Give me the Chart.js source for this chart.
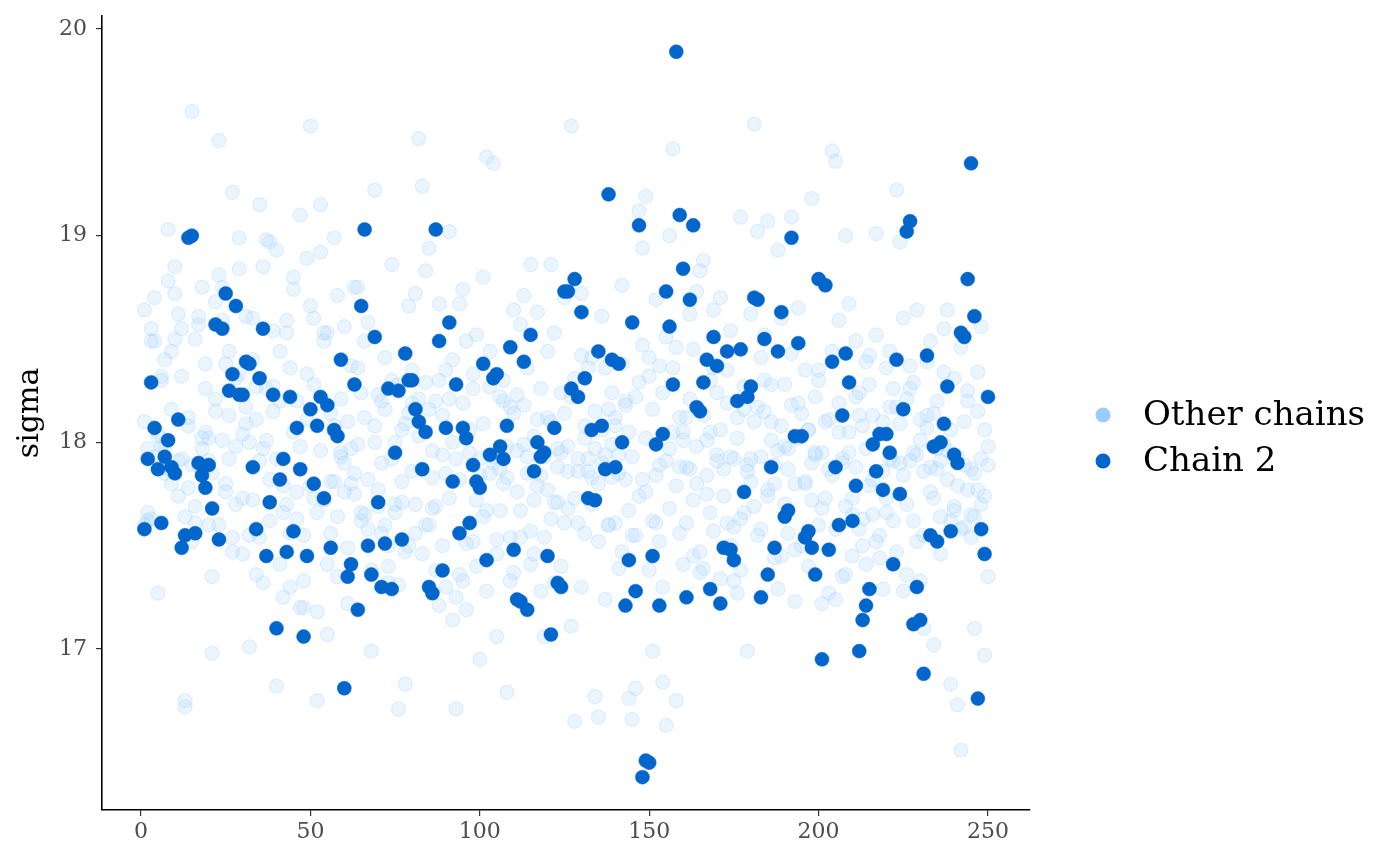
<!DOCTYPE html>
<html>
<head>
<meta charset="utf-8">
<script src="https://cdn.jsdelivr.net/npm/chart.js@4"></script>
<style>
html,body{margin:0;padding:0;background:#fff;}
canvas{display:block;}
</style>
</head>
<body>
<canvas id="c" width="1400" height="866"></canvas>
<script>
// ---- data ----
const seriesLabels = ["Other chains", "Chain 2"];
const xTicks = [0, 50, 100, 150, 200, 250];
const yTicks = [17, 18, 19, 20];

const chain2 = [
17.58,17.92,18.29,18.07,17.87,17.61,17.93,18.01,17.88,17.85,
18.11,17.49,17.55,18.99,19.00,17.56,17.90,17.84,17.78,17.89,
17.68,18.57,17.53,18.55,18.72,18.25,18.33,18.66,18.23,18.23,
18.39,18.38,17.88,17.58,18.31,18.55,17.45,17.71,18.23,17.10,
17.82,17.92,17.47,18.22,17.57,18.07,17.87,17.06,17.45,18.16,
17.80,18.08,18.22,17.73,18.18,17.49,18.06,18.03,18.40,16.81,
17.35,17.41,18.28,17.19,18.66,19.03,17.50,17.36,18.51,17.71,
17.30,17.51,18.26,17.29,17.95,18.25,17.53,18.43,18.30,18.30,
18.16,18.10,17.87,18.05,17.30,17.27,19.03,18.49,17.38,18.07,
18.58,17.81,18.28,17.56,18.07,18.02,17.61,17.89,17.81,17.78,
18.38,17.43,17.94,18.31,18.33,17.98,17.92,18.08,18.46,17.48,
17.24,17.23,18.39,17.19,18.52,17.86,18.00,17.93,17.95,17.45,
17.07,18.07,17.32,17.30,18.73,18.73,18.26,18.79,18.22,18.63,
18.31,17.73,18.06,17.72,18.44,18.08,17.87,19.20,18.40,17.88,
18.38,18.00,17.21,17.43,18.58,17.28,19.05,16.38,16.46,16.45,
17.45,17.99,17.21,18.04,18.73,18.56,18.28,19.89,19.10,18.84,
17.25,18.69,19.05,18.17,18.15,18.29,18.40,17.29,18.51,18.37,
17.22,17.49,18.44,17.48,17.43,18.20,18.45,17.76,18.22,18.27,
18.70,18.69,17.25,18.50,17.36,17.88,17.49,18.44,18.63,17.64,
17.67,18.99,18.03,18.48,18.03,17.54,17.57,17.49,17.36,18.79,
16.95,18.76,17.48,18.39,17.88,17.60,18.13,18.43,18.29,17.62,
17.79,16.99,17.14,17.21,17.29,17.99,17.86,18.04,17.77,18.04,
17.95,17.41,18.40,17.75,18.16,19.02,19.07,17.12,17.30,17.14,
16.88,18.42,17.55,17.98,17.52,18.00,18.09,18.27,17.57,17.94,
17.90,18.53,18.51,18.79,19.35,18.61,16.76,17.58,17.46,18.22
];

const chain1 = [
18.64,17.66,18.49,18.70,17.27,17.98,18.40,19.03,17.80,18.85,
18.62,17.92,16.75,18.12,19.60,18.50,18.57,18.75,18.26,17.60,
16.98,18.68,19.46,18.75,18.38,18.13,19.21,17.70,18.99,18.04,
18.61,17.01,18.40,18.11,19.15,17.32,18.98,18.97,18.15,16.82,
18.44,17.66,18.53,17.56,18.80,18.20,19.10,17.33,18.89,19.53,
18.60,16.75,19.15,17.72,18.53,18.14,18.99,17.35,17.93,18.56,
17.22,17.80,18.75,17.99,18.24,17.65,18.58,16.99,19.22,17.77,
18.20,17.60,17.50,18.30,18.00,16.71,17.71,16.83,18.66,17.86,
18.72,19.47,19.24,17.60,18.94,17.83,17.69,18.67,18.13,17.30,
19.02,18.40,16.71,17.36,18.74,17.19,18.06,17.52,18.52,16.95,
17.64,19.38,17.85,19.35,17.06,17.67,18.20,16.79,17.33,18.64,
18.23,17.54,18.71,17.93,18.86,17.46,18.11,17.84,17.06,18.44,
18.86,17.32,17.71,17.95,18.14,17.68,19.53,16.65,17.92,18.72,
17.56,18.36,17.83,16.77,16.67,18.06,17.24,17.60,18.24,17.61,
17.94,18.38,18.18,16.76,16.66,16.81,19.12,18.94,19.19,18.41,
16.99,17.61,18.37,16.84,16.63,19.00,19.42,16.75,18.12,17.41,
18.12,17.87,18.45,18.73,17.47,18.88,17.75,18.05,18.64,18.24,
17.34,17.87,17.61,18.54,17.33,17.27,19.09,17.66,16.99,17.92,
19.54,19.02,18.41,18.30,19.07,18.01,17.80,18.93,17.45,18.28,
17.97,19.09,17.23,18.65,18.03,17.81,18.06,19.18,17.94,18.35,
17.22,18.76,17.27,19.41,19.36,18.59,17.35,19.00,17.95,17.73,
18.49,18.13,17.50,18.39,18.42,17.65,19.01,17.55,17.29,18.36,
17.92,18.26,19.22,18.97,17.28,18.21,18.37,17.95,18.64,17.33,
17.10,18.07,18.49,17.02,17.87,17.91,18.34,18.64,16.83,17.67,
16.73,16.51,17.89,18.20,17.65,17.10,17.77,18.56,16.97,17.35
];

const chain3 = [
18.10,17.62,18.55,17.93,18.05,18.30,17.85,18.78,18.44,18.72,
17.74,18.32,17.64,18.08,17.52,17.69,17.89,18.02,18.05,17.91,
17.35,18.15,18.81,18.01,17.80,18.44,17.54,18.31,18.84,17.46,
18.09,17.55,18.60,17.36,17.91,18.85,18.26,17.82,18.54,18.93,
17.41,17.25,18.59,17.30,18.74,17.76,17.20,17.55,18.33,18.66,
17.73,17.18,18.92,18.49,17.07,17.56,17.81,18.71,17.95,17.76,
18.10,18.37,17.75,18.75,17.66,18.49,17.58,17.36,18.00,17.69,
17.90,18.41,17.32,18.86,17.66,17.31,18.06,17.47,18.14,18.35,
17.56,18.21,17.46,18.83,18.16,17.68,17.38,18.30,17.50,17.85,
18.21,17.14,17.92,18.67,17.33,18.49,17.61,18.26,17.40,17.92,
18.80,17.28,18.44,17.93,17.53,17.87,18.30,17.83,17.54,18.14,
17.76,18.57,17.99,18.36,17.57,17.72,18.63,17.28,17.93,18.12,
17.63,18.53,17.97,17.40,18.70,17.86,17.11,18.31,17.61,18.42,
18.02,17.86,18.41,17.97,17.52,18.61,17.94,18.16,17.83,18.08,
17.39,18.76,17.82,18.05,17.55,18.22,17.74,18.47,17.76,18.32,
17.62,18.69,17.89,17.30,18.51,17.97,18.05,18.46,17.56,18.01,
17.88,18.62,17.45,17.80,18.83,17.39,18.01,17.66,18.36,17.91,
18.70,17.49,18.35,17.93,17.59,18.12,17.38,18.16,17.86,18.62,
17.69,18.17,17.58,18.52,17.74,18.10,17.89,17.29,18.60,17.98,
17.56,18.43,17.80,18.19,17.50,18.35,18.06,17.72,17.95,18.30,
17.68,18.10,17.87,18.44,17.24,18.05,17.90,17.36,18.67,17.65,
18.22,17.58,18.08,17.41,18.28,17.82,18.52,17.44,18.10,17.73,
18.44,17.62,18.17,17.90,18.60,17.36,17.91,18.29,17.52,18.11,
17.86,18.39,17.76,18.14,17.97,17.64,18.55,17.96,17.62,18.31,
17.79,18.46,17.59,18.25,17.54,17.85,18.34,17.70,18.06,17.89
];

const chain4 = [
17.60,17.97,17.63,18.49,18.03,18.32,17.98,17.87,18.16,18.50,
17.91,18.55,16.72,17.78,17.89,17.61,18.61,17.97,18.38,18.02,
17.85,18.21,17.60,18.59,17.76,17.92,17.47,17.98,18.33,17.73,
18.17,18.00,17.72,18.27,17.54,17.97,18.01,17.62,18.27,17.92,
18.20,17.79,17.70,18.36,18.05,17.63,17.98,17.20,18.11,17.79,
18.28,17.66,17.96,18.53,17.41,17.81,18.08,17.64,18.21,17.90,
17.49,17.97,17.85,18.36,17.62,18.12,17.82,17.38,18.08,18.23,
17.56,18.16,17.40,17.92,17.70,18.28,17.81,18.09,17.50,18.19,
17.70,18.03,17.87,18.29,17.60,17.96,18.20,17.21,17.94,18.35,
17.73,18.00,17.25,17.82,18.19,17.51,17.95,18.33,17.72,17.84,
18.09,17.67,18.27,17.90,17.46,18.22,17.80,17.98,18.17,17.37,
17.96,17.67,18.18,17.85,17.41,18.03,17.79,18.26,17.54,17.77,
18.10,17.71,17.88,18.24,17.61,17.98,18.22,17.73,17.86,17.30,
18.08,17.92,17.70,18.15,17.80,17.90,18.36,17.60,17.99,18.12,
17.85,17.47,18.20,17.67,17.93,17.55,18.29,17.82,18.02,17.38,
18.16,17.84,17.52,18.24,17.91,17.68,18.36,17.79,17.88,18.05,
17.61,18.21,17.72,17.98,17.37,18.13,17.84,18.30,17.57,17.94,
18.06,17.74,18.19,17.50,17.92,18.02,17.63,18.27,17.89,17.81,
18.10,17.55,17.93,18.15,17.77,18.28,17.44,17.96,18.08,17.70,
17.87,18.18,17.48,18.02,18.14,17.80,17.40,17.90,18.22,17.60,
17.95,17.73,18.11,17.84,17.58,18.19,17.92,17.69,18.05,17.45,
17.88,18.24,17.63,17.97,17.79,18.13,17.52,18.04,17.86,17.66,
18.17,17.91,17.47,18.09,17.84,17.70,18.26,17.62,17.94,18.01,
17.55,18.13,17.88,17.73,18.20,17.46,17.99,17.82,18.06,17.69,
17.93,17.58,18.10,17.77,17.87,17.64,18.15,17.92,17.74,17.98
];

// ---- build points ----
const toPts = arr => arr.map((v, i) => ({x: i + 1, y: v}));
const otherPts = [].concat(toPts(chain1), toPts(chain3), toPts(chain4));
const chain2Pts = toPts(chain2);

const DARK = '#0066CC';
const LIGHT = '#99CCFF';
const SERIF = '"DejaVu Serif", serif';

const legendPlugin = {
  id: 'sideLegend',
  afterDraw(chart) {
    const ctx = chart.ctx;
    ctx.save();
    const items = [
      {label: seriesLabels[0], color: LIGHT, y: 415},
      {label: seriesLabels[1], color: DARK, y: 461}
    ];
    items.forEach(it => {
      ctx.beginPath();
      ctx.fillStyle = it.color;
      ctx.arc(1103, it.y, 7.5, 0, Math.PI * 2);
      ctx.fill();
      ctx.fillStyle = '#000';
      ctx.font = '34px ' + SERIF;
      ctx.textBaseline = 'middle';
      ctx.textAlign = 'left';
      ctx.fillText(it.label, 1143, it.y + 1);
    });
    ctx.restore();
  }
};

new Chart(document.getElementById('c'), {
  type: 'scatter',
  data: {
    datasets: [
      {
        label: seriesLabels[1],
        data: chain2Pts,
        order: 0,
        pointRadius: 7,
        pointHoverRadius: 7,
        backgroundColor: DARK,
        borderColor: DARK,
        borderWidth: 0.5
      },
      {
        label: seriesLabels[0],
        data: otherPts,
        order: 1,
        pointRadius: 7,
        pointHoverRadius: 7,
        backgroundColor: 'rgba(153,204,255,0.2)',
        borderColor: 'rgba(153,204,255,0.28)',
        borderWidth: 1.2
      }
    ]
  },
  options: {
    responsive: false,
    animation: false,
    devicePixelRatio: 1,
    layout: {padding: {top: 16, right: 370, bottom: 0, left: 0}},
    plugins: {legend: {display: false}, tooltip: {enabled: false}},
    scales: {
      x: {
        type: 'linear',
        min: -11.51,
        max: 262.4,
        afterBuildTicks: s => { s.ticks = xTicks.map(v => ({value: v})); },
        afterFit: s => { s.height = 56; s.paddingLeft = 0; s.paddingRight = 0; },
        grid: {display: true, drawOnChartArea: false, drawTicks: true, tickLength: 6, color: '#333333', lineWidth: 1.2},
        border: {display: true, color: '#000000', width: 1.6},
        ticks: {font: {family: SERIF, size: 22}, color: '#4D4D4D', padding: 3, maxRotation: 0}
      },
      y: {
        type: 'linear',
        min: 16.221,
        max: 20.063,
        afterBuildTicks: s => { s.ticks = yTicks.map(v => ({value: v})); },
        afterFit: s => { s.width = 102; s.paddingTop = 0; s.paddingBottom = 0; },
        grid: {display: true, drawOnChartArea: false, drawTicks: true, tickLength: 6, color: '#333333', lineWidth: 1.2},
        border: {display: true, color: '#000000', width: 1.6},
        ticks: {font: {family: SERIF, size: 22}, color: '#4D4D4D', padding: 9},
        title: {display: true, text: 'sigma', font: {family: SERIF, size: 30}, color: '#000000', padding: {top: 12, bottom: 0}}
      }
    }
  },
  plugins: [legendPlugin]
});
</script>
</body>
</html>
